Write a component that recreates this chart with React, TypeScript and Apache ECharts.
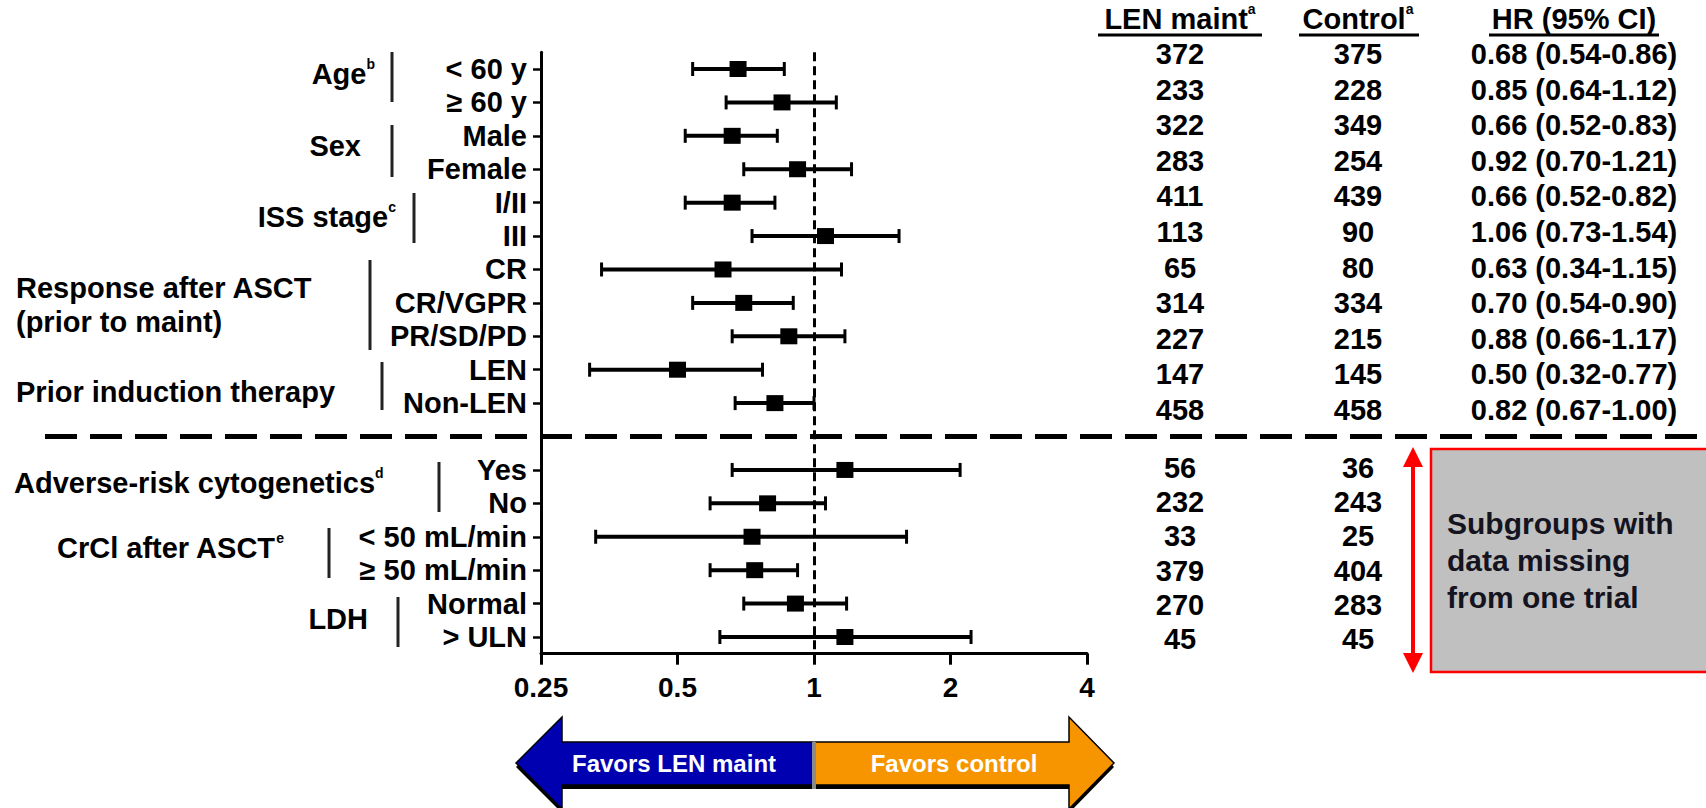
import React, { useEffect, useRef } from 'react';
import * as echarts from 'echarts';

// ---------- data ----------
const rowLabels = ['< 60 y', '≥ 60 y', 'Male', 'Female', 'I/II', 'III', 'CR', 'CR/VGPR', 'PR/SD/PD', 'LEN', 'Non-LEN', '', 'Yes', 'No', '< 50 mL/min', '≥ 50 mL/min', 'Normal', '> ULN'];
const hrValues = [0.68, 0.85, 0.66, 0.92, 0.66, 1.06, 0.63, 0.70, 0.88, 0.50, 0.82, null, 1.17, 0.79, 0.73, 0.74, 0.91, 1.17];
const ciLow = [0.54, 0.64, 0.52, 0.70, 0.52, 0.73, 0.34, 0.54, 0.66, 0.32, 0.67, null, 0.66, 0.59, 0.33, 0.59, 0.70, 0.62];
const ciHigh = [0.86, 1.12, 0.83, 1.21, 0.82, 1.54, 1.15, 0.90, 1.17, 0.77, 1.00, null, 2.10, 1.06, 1.60, 0.92, 1.18, 2.22];

const xTicks = [0.25, 0.5, 1, 2, 4];
const xTickLabels = ['0.25', '0.5', '1', '2', '4'];

const lenMaintN = ['372', '233', '322', '283', '411', '113', '65', '314', '227', '147', '458'];
const controlN = ['375', '228', '349', '254', '439', '90', '80', '334', '215', '145', '458'];
const hrText = ['0.68 (0.54-0.86)', '0.85 (0.64-1.12)', '0.66 (0.52-0.83)', '0.92 (0.70-1.21)', '0.66 (0.52-0.82)', '1.06 (0.73-1.54)', '0.63 (0.34-1.15)', '0.70 (0.54-0.90)', '0.88 (0.66-1.17)', '0.50 (0.32-0.77)', '0.82 (0.67-1.00)'];
const lowerLenMaintN = ['56', '232', '33', '379', '270', '45'];
const lowerControlN = ['36', '243', '25', '404', '283', '45'];

const headers = ['LEN maint', 'Control', 'HR (95% CI)'];
const headerSup = ['a', 'a', ''];

const groupNames = ['Age', 'Sex', 'ISS stage', 'Response after ASCT\n(prior to maint)', 'Prior induction therapy', 'Adverse-risk cytogenetics', 'CrCl after ASCT', 'LDH'];
const groupSup = ['b', '', 'c', '', '', 'd', 'e', ''];

const arrowLeftText = 'Favors LEN maint';
const arrowRightText = 'Favors control';
const noteLines = ['Subgroups with', 'data missing', 'from one trial'];

// ---------- layout ----------
const FONT = "'Liberation Sans', Arial, Helvetica, sans-serif";
const W = 1706;
const H = 808;
const groupLayout = [
  { x: 375, y: 74, align: 'right', barX: 392, barTop: 52, barBottom: 102 },
  { x: 361, y: 146, align: 'right', barX: 392, barTop: 125, barBottom: 177 },
  { x: 396, y: 217, align: 'right', barX: 414, barTop: 193, barBottom: 243 },
  { x: 16, y: 305, align: 'left', barX: 370, barTop: 260, barBottom: 350 },
  { x: 16, y: 392, align: 'left', barX: 382, barTop: 362, barBottom: 410 },
  { x: 14, y: 483, align: 'left', barX: 439, barTop: 462, barBottom: 512 },
  { x: 57, y: 548, align: 'left', barX: 329, barTop: 528, barBottom: 578 },
  { x: 368, y: 619, align: 'right', barX: 398, barTop: 597, barBottom: 647 },
];
const colCenters = [1180, 1358, 1574];
const headerUnderline = [[1098, 1262], [1299, 1419], [1489, 1659]];

const ciData = rowLabels
  .map((_, i) => (hrValues[i] == null ? null : [ciLow[i], ciHigh[i], i]))
  .filter((d) => d !== null);
const hrData = rowLabels
  .map((_, i) => (hrValues[i] == null ? null : [hrValues[i], i]))
  .filter((d) => d !== null);

function renderCI(params: any, api: any) {
  const lo = api.value(0);
  const hi = api.value(1);
  const y = api.value(2);
  const p1 = api.coord([lo, y]);
  const p2 = api.coord([hi, y]);
  const cap = 7;
  const st = { stroke: '#000', lineWidth: 4 };
  return {
    type: 'group',
    children: [
      { type: 'line', shape: { x1: p1[0], y1: p1[1], x2: p2[0], y2: p2[1] }, style: st },
      { type: 'line', shape: { x1: p1[0], y1: p1[1] - cap, x2: p1[0], y2: p1[1] + cap }, style: { stroke: '#000', lineWidth: 3 } },
      { type: 'line', shape: { x1: p2[0], y1: p2[1] - cap, x2: p2[0], y2: p2[1] + cap }, style: { stroke: '#000', lineWidth: 3 } },
    ],
  };
}

function buildGraphics(sepY: number) {
  const g: any[] = [];
  const bold = { fontFamily: FONT, fontWeight: 'bold', fill: '#000' };
  const rich = {
    m: { fontFamily: FONT, fontWeight: 'bold', fontSize: 29, fill: '#000', lineHeight: 34 },
    s: { fontFamily: FONT, fontWeight: 'bold', fontSize: 14, fill: '#000', verticalAlign: 'top', lineHeight: 34 },
  };

  // group labels + brackets
  groupNames.forEach((name, i) => {
    const L = groupLayout[i];
    const lines = name.split('\n');
    const txt = lines
      .map((ln, k) => `{m|${ln}}` + (k === lines.length - 1 && groupSup[i] ? `{s|${groupSup[i]}}` : ''))
      .join('\n');
    g.push({
      type: 'text', x: L.x, y: L.y, silent: true,
      style: { text: txt, rich, align: L.align, verticalAlign: 'middle', ...bold, fontSize: 29 },
    });
    g.push({
      type: 'line', silent: true,
      shape: { x1: L.barX, y1: L.barTop, x2: L.barX, y2: L.barBottom },
      style: { stroke: '#222', lineWidth: 3 },
    });
  });

  // table headers
  headers.forEach((h, i) => {
    g.push({
      type: 'text', x: colCenters[i], y: 19, silent: true,
      style: { text: `{m|${h}}` + (headerSup[i] ? `{s|${headerSup[i]}}` : ''), rich, align: 'center', verticalAlign: 'middle', ...bold, fontSize: 29 },
    });
    g.push({
      type: 'line', silent: true,
      shape: { x1: headerUnderline[i][0], y1: 35, x2: headerUnderline[i][1], y2: 35 },
      style: { stroke: '#000', lineWidth: 3 },
    });
  });

  // table rows (upper)
  const upperCols = [lenMaintN, controlN, hrText];
  upperCols.forEach((col, c) => {
    col.forEach((v, r) => {
      g.push({
        type: 'text', x: colCenters[c], y: 54 + r * 35.6, silent: true,
        style: { text: v, align: 'center', verticalAlign: 'middle', fontSize: 29, ...bold },
      });
    });
  });
  // table rows (lower)
  [lowerLenMaintN, lowerControlN].forEach((col, c) => {
    col.forEach((v, r) => {
      g.push({
        type: 'text', x: colCenters[c], y: 468 + r * 34.2, silent: true,
        style: { text: v, align: 'center', verticalAlign: 'middle', fontSize: 29, ...bold },
      });
    });
  });

  // separator dashed line
  g.push({
    type: 'line', silent: true,
    shape: { x1: 45, y1: sepY, x2: W, y2: sepY },
    style: { stroke: '#000', lineWidth: 5, lineDash: [32, 13] },
  });

  // red double arrow
  g.push({ type: 'line', silent: true, shape: { x1: 1413, y1: 462, x2: 1413, y2: 658 }, style: { stroke: '#ff0000', lineWidth: 4 } });
  g.push({ type: 'polygon', silent: true, shape: { points: [[1413, 447], [1403, 467], [1423, 467]] }, style: { fill: '#ff0000' } });
  g.push({ type: 'polygon', silent: true, shape: { points: [[1413, 673], [1403, 653], [1423, 653]] }, style: { fill: '#ff0000' } });

  // grey note box
  g.push({ type: 'rect', silent: true, shape: { x: 1431, y: 449, width: 300, height: 223 }, style: { fill: '#c0c0c0', stroke: '#ff0000', lineWidth: 2.5 } });
  noteLines.forEach((ln, i) => {
    g.push({
      type: 'text', x: 1447, y: 523 + i * 37, silent: true,
      style: { text: ln, align: 'left', verticalAlign: 'middle', fontSize: 30, fontFamily: FONT, fontWeight: 'bold', fill: '#141420' },
    });
  });

  // bottom arrows
  const blue = [[516, 763], [562, 717], [562, 742], [813, 742], [813, 785], [562, 785], [562, 809]];
  const orange = [[815, 742], [1069, 742], [1069, 717], [1114, 763], [1069, 809], [1069, 785], [815, 785]];
  const shift = (pts: number[][]) => pts.map(([x, y]) => [x, y + 4]);
  g.push({ type: 'polygon', silent: true, shape: { points: shift(blue) }, style: { fill: '#000' } });
  g.push({ type: 'polygon', silent: true, shape: { points: shift(orange) }, style: { fill: '#000' } });
  g.push({ type: 'polygon', silent: true, shape: { points: blue }, style: { fill: '#0000b0', stroke: '#000', lineWidth: 1.5 } });
  g.push({ type: 'polygon', silent: true, shape: { points: orange }, style: { fill: '#f79500', stroke: '#000', lineWidth: 1.5 } });
  g.push({ type: 'rect', silent: true, shape: { x: 812, y: 742, width: 4, height: 47 }, style: { fill: '#8a8a8a' } });
  g.push({
    type: 'text', x: 674, y: 763, silent: true,
    style: { text: arrowLeftText, align: 'center', verticalAlign: 'middle', fontSize: 24, fontFamily: FONT, fontWeight: 'bold', fill: '#fff' },
  });
  g.push({
    type: 'text', x: 954, y: 763, silent: true,
    style: { text: arrowRightText, align: 'center', verticalAlign: 'middle', fontSize: 24, fontFamily: FONT, fontWeight: 'bold', fill: '#fff' },
  });
  return g;
}

export default function App() {
  const ref = useRef<HTMLDivElement>(null);
  useEffect(() => {
    document.body.style.margin = '0';
    const chart = echarts.init(ref.current as HTMLDivElement, null, { renderer: 'svg' });
    const option: any = {
      animation: false,
      backgroundColor: '#ffffff',
      grid: { left: 541, right: 619, top: 52.3, bottom: 154.3 },
      xAxis: {
        type: 'log',
        logBase: 2,
        min: 0.25,
        max: 4,
        axisLine: { show: true, onZero: false, lineStyle: { color: '#000', width: 3 } },
        axisTick: { show: true, length: 11, lineStyle: { color: '#000', width: 3 } },
        minorTick: { show: false },
        splitLine: { show: false },
        axisLabel: {
          fontSize: 28,
          fontWeight: 'bold',
          color: '#000',
          fontFamily: FONT,
          margin: 20,
          formatter: (v: number) => {
            const i = xTicks.findIndex((t) => Math.abs(t - v) < 1e-6);
            return i >= 0 ? xTickLabels[i] : '';
          },
        },
      },
      yAxis: {
        type: 'category',
        inverse: true,
        data: rowLabels,
        boundaryGap: true,
        axisLine: { show: true, onZero: false, lineStyle: { color: '#000', width: 3 } },
        axisTick: {
          show: true,
          alignWithLabel: true,
          length: 8,
          lineStyle: { color: '#000', width: 2.5 },
          interval: (i: number, v: string) => v !== '',
        },
        axisLabel: { interval: 0, fontSize: 29, fontWeight: 'bold', color: '#000', fontFamily: FONT, margin: 14 },
        splitLine: { show: false },
      },
      series: [
        {
          type: 'custom',
          renderItem: renderCI,
          data: ciData,
          encode: { x: [0, 1], y: 2 },
          silent: true,
          z: 3,
        },
        {
          type: 'scatter',
          data: hrData,
          symbol: 'rect',
          symbolSize: [17, 16],
          itemStyle: { color: '#000', opacity: 1 },
          silent: true,
          z: 4,
          markLine: {
            silent: true,
            symbol: ['none', 'none'],
            label: { show: false },
            lineStyle: { color: '#000', width: 3, type: [9, 5], opacity: 1 },
            data: [{ xAxis: 1 }],
          },
        },
      ],
    };
    chart.setOption(option);
    const sepY = chart.convertToPixel({ yAxisIndex: 0 }, 11) as number;
    chart.setOption({ graphic: { elements: buildGraphics(typeof sepY === 'number' ? sepY : 436) } });
    return () => chart.dispose();
  }, []);
  return <div ref={ref} style={{ width: W, height: H }} />;
}
